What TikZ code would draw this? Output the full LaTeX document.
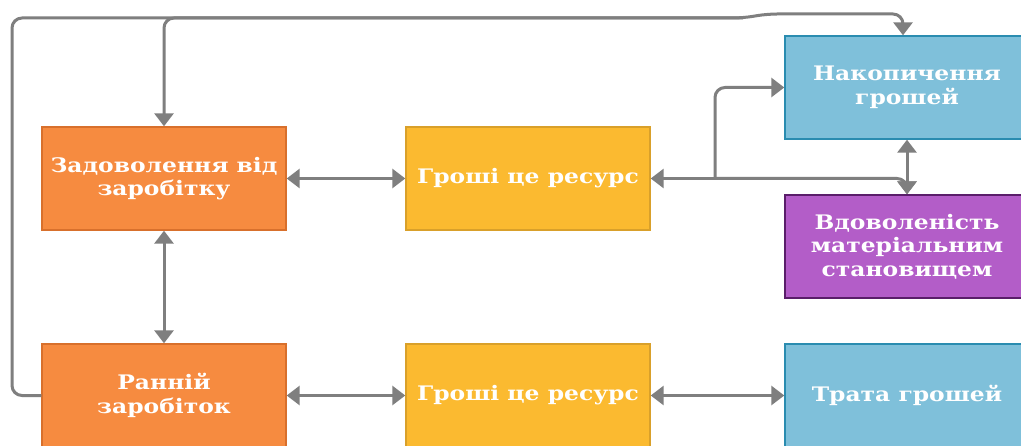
\documentclass[tikz,border=0pt]{standalone}
\usepackage{fontspec}
\setmainfont{DejaVu Serif}[FakeStretch=1.17]
\usetikzlibrary{arrows.meta}

\definecolor{orangefill}{HTML}{F68B40}
\definecolor{orangeline}{HTML}{D8702C}
\definecolor{yellowfill}{HTML}{FBBA30}
\definecolor{yellowline}{HTML}{D9A02A}
\definecolor{bluefill}{HTML}{7FC0DA}
\definecolor{blueline}{HTML}{2A8CB0}
\definecolor{purplefill}{HTML}{B35DC8}
\definecolor{purpleline}{HTML}{5A1E6A}
\definecolor{linkgray}{HTML}{7F7F7F}

\begin{document}
\begin{tikzpicture}[x=1pt,y=1pt,
    box/.style={draw, line width=1.4pt, minimum width=244pt, minimum height=103pt,
      inner sep=0pt, align=center, text=white,
      font=\fontsize{20}{23.5}\selectfont\bfseries},
    orangebox/.style={box, fill=orangefill, draw=orangeline},
    yellowbox/.style={box, fill=yellowfill, draw=yellowline},
    bluebox/.style={box, fill=bluefill, draw=blueline},
    purplebox/.style={box, fill=purplefill, draw=purpleline},
    link/.style={draw=linkgray, line width=3pt,
      arrows={-Triangle[length=13pt, width=19pt]}},
    twolink/.style={link, arrows={Triangle[length=13pt, width=19pt]-Triangle[length=13pt, width=19pt]}}]
  \clip (0,0) rectangle (1021,445);
  \fill[white] (0,0) rectangle (1021,445);

  \node[orangebox] (zad) at (164,266.5) {Задоволення від\\заробітку};
  \node[yellowbox] (gr1) at (528,266.5) {Гроші це ресурс};
  \node[bluebox] (nak) at (907,357.5) {Накопичення\\грошей};
  \node[purplebox] (vdo) at (907,198.5) {Вдоволеність\\матеріальним\\становищем};
  \node[orangebox] (ran) at (164,49.5) {Ранній\\заробіток};
  \node[yellowbox] (gr2) at (528,49.5) {Гроші це ресурс};
  \node[bluebox] (tra) at (907,49.5) {Трата грошей};

  \coordinate (tl) at (12,427);
  \coordinate (jogA) at (743,427);
  \coordinate (jogB) at (767,431);
  \coordinate (fork) at (715,266.5);

  \draw[link, rounded corners=10pt] (ran.west) -| (tl) -- (jogA) -- (jogB) -| ([xshift=-4pt]nak.north);
  \draw[link, rounded corners=10pt] (jogA) -| (zad.north);
  \draw[twolink] (zad.south) -- (ran.north);

  \draw[twolink] (zad.east) -- (gr1.west);
  \draw[link] (fork) -- (gr1.east);
  \draw[link, rounded corners=10pt] (fork) |- (nak.west);
  \draw[link, rounded corners=10pt] (fork) -| (vdo.north);
  \draw[twolink] (nak.south) -- (vdo.north);

  \draw[twolink] (ran.east) -- (gr2.west);
  \draw[twolink] (gr2.east) -- (tra.west);
\end{tikzpicture}
\end{document}
